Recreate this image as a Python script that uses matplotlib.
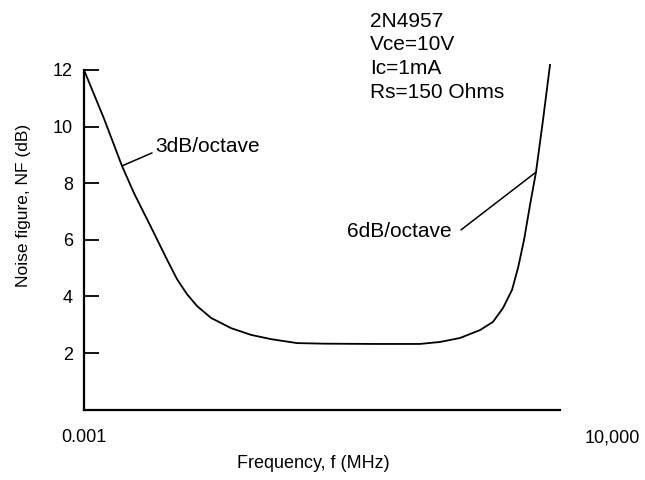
import matplotlib
matplotlib.use('Agg')
import matplotlib.pyplot as plt
from matplotlib.ticker import NullLocator
from matplotlib.transforms import ScaledTranslation

plt.rcParams['font.family'] = ['Liberation Sans', 'DejaVu Sans']

# Data (frequency in MHz, noise figure in dB)
freq = [0.001, 0.00197, 0.00362, 0.00543, 0.00966, 0.01663, 0.02333, 0.0327,
        0.0459, 0.0738, 0.145, 0.286, 0.562, 1.36, 3.38, 17.2, 87.3, 172, 338,
        667, 1035, 1452, 1969, 2411, 2956, 3622, 4434, 5623, 7129]
nf = [12.0, 10.28, 8.61, 7.65, 6.45, 5.30, 4.61, 4.08,
      3.66, 3.24, 2.88, 2.64, 2.49, 2.35, 2.33, 2.32, 2.32, 2.39, 2.53,
      2.81, 3.10, 3.59, 4.23, 5.00, 5.99, 7.23, 8.39, 10.23, 12.18]

yticks = [2, 4, 6, 8, 10, 12]
xticks = [0.001, 10000]
xticklabels = ['0.001', '10,000']
info_lines = ['2N4957', 'Vce=10V', 'Ic=1mA', 'Rs=150 Ohms']

W, H = 645, 480
fig = plt.figure(figsize=(W / 100, H / 100), dpi=100)
ax = fig.add_axes([84 / W, 1 - 409.6 / H, (560 - 84) / W, (409.6 - 70) / H])
ax.set_xscale('log')
ax.set_xlim(0.001, 10000)
ax.set_ylim(0, 12)

ax.plot(freq, nf, color='black', lw=1.3, clip_on=False)

for s in ['top', 'right']:
    ax.spines[s].set_visible(False)
for s in ['left', 'bottom']:
    ax.spines[s].set_linewidth(1.6)

ax.set_yticks(yticks)
ax.set_yticklabels([str(v) for v in yticks])
ax.tick_params(axis='y', direction='in', length=10.5, width=1.3, pad=8, labelsize=13)
ax.set_xticks(xticks)
ax.set_xticklabels(xticklabels)
ax.xaxis.set_minor_locator(NullLocator())
ax.tick_params(axis='x', length=0, pad=14, labelsize=13)

ax.set_xlabel('Frequency, f (MHz)', fontsize=13)
ax.xaxis.set_label_coords(0.481, -0.135)
ax.set_ylabel('Noise figure, NF (dB)', fontsize=12.5)
ax.yaxis.set_label_coords(-0.111, 0.602)

# annotations
ax.annotate('', xy=(0.00362, 8.61), xytext=(0.01, 9.07),
            arrowprops=dict(arrowstyle='-', lw=1.1, color='black', shrinkA=0, shrinkB=0))
ax.text(0.01107, 9.28, '3dB/octave', ha='left', va='center', fontsize=15)
ax.annotate('', xy=(4434, 8.39), xytext=(350, 6.35),
            arrowprops=dict(arrowstyle='-', lw=1.1, color='black', shrinkA=0, shrinkB=0))
ax.text(258, 6.31, '6dB/octave', ha='right', va='center', fontsize=15)

for i, line in enumerate(info_lines):
    fig.text(370 / W, 1 - (27 + 23.5 * i) / H, line, ha='left', va='baseline', fontsize=15)

# shift the right-hand tick label past the end of the axis line
lbl = ax.get_xticklabels()[1]
lbl.set_transform(lbl.get_transform() + ScaledTranslation(0.52, 0, fig.dpi_scale_trans))

fig.savefig('out.png', dpi=100)
